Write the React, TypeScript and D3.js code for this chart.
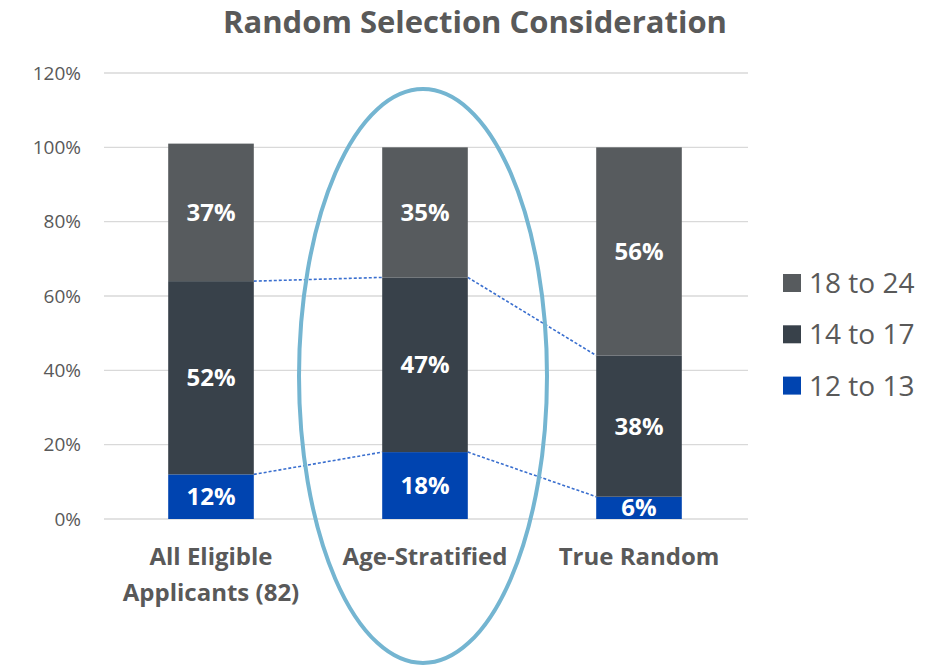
import * as d3 from "d3";

const categories = ["All Eligible|Applicants (82)", "Age-Stratified", "True Random"];
const seriesNames = ["12 to 13", "14 to 17", "18 to 24"];
const age12to13 = [12, 18, 6];
const age14to17 = [52, 47, 38];
const age18to24 = [37, 35, 56];
const yTicks = [0, 20, 40, 60, 80, 100, 120];
const colors = ["#0044b0", "#38414a", "#575b5e"];

const FONT = "'Open Sans', sans-serif";

export default function App() {
  const width = 943;
  const height = 666;
  const margin = { top: 73, right: 197, bottom: 147, left: 104 };

  const x = d3.scaleBand()
    .domain(categories)
    .range([margin.left, width - margin.right])
    .paddingInner(0.6)
    .paddingOuter(0.3);

  const y = d3.scaleLinear()
    .domain([0, 120])
    .range([height - margin.bottom, margin.top]);

  const rows = categories.map((c, i) => ({
    cat: c,
    s0: age12to13[i],
    s1: age14to17[i],
    s2: age18to24[i],
  }));
  const stacked = d3.stack<any>().keys(["s0", "s1", "s2"])(rows);

  // series lines between adjacent bars (Excel style)
  const seriesLines: { x1: number; y1: number; x2: number; y2: number }[] = [];
  for (let s = 0; s < 2; s++) {
    for (let i = 0; i < categories.length - 1; i++) {
      seriesLines.push({
        x1: x(categories[i])! + x.bandwidth(),
        y1: y(stacked[s][i][1]),
        x2: x(categories[i + 1])!,
        y2: y(stacked[s][i + 1][1]),
      });
    }
  }

  const midX = x(categories[1])! + x.bandwidth() / 2;

  return (
    <svg width={width} height={height} style={{ position: "absolute", left: 0, top: 0, background: "#fff" }}>
      <defs>
        <clipPath id="plot">
          <rect x={margin.left} y={margin.top} width={width - margin.left - margin.right} height={y(0) - margin.top} />
        </clipPath>
      </defs>
      <text x={475} y={33} textAnchor="middle" fontFamily={FONT} fontWeight="bold" fontSize={31} fill="#595959">
        Random Selection Consideration
      </text>

      {yTicks.map(t => (
        <g key={t}>
          <line x1={margin.left} x2={width - margin.right + 2} y1={y(t)} y2={y(t)} stroke="#d9d9d9" strokeWidth={1.3} />
          <text x={81} y={y(t)} dy="0.35em" textAnchor="end" fontFamily={FONT} fontSize={19} fill="#595959">
            {t}%
          </text>
        </g>
      ))}

      {seriesLines.map((l, i) => (
        <line key={i} x1={l.x1} y1={l.y1} x2={l.x2} y2={l.y2} stroke="#3a6fcf" strokeWidth={1.6} strokeDasharray="3 2" />
      ))}

      {stacked.map((layer, s) => (
        <g key={s}>
          {layer.map((d, i) => (
            <rect key={i} x={x(categories[i])} y={y(d[1])} width={x.bandwidth()} height={y(d[0]) - y(d[1])} fill={colors[s]} />
          ))}
        </g>
      ))}

      <g clipPath="url(#plot)">
        {stacked.map((layer, s) => (
          <g key={s}>
            {layer.map((d, i) => (
              <text
                key={i}
                x={x(categories[i])! + x.bandwidth() / 2}
                y={y((d[0] + d[1]) / 2)}
                dy="0.36em"
                textAnchor="middle"
                fontFamily={FONT}
                fontWeight="bold"
                fontSize={24}
                fill="#ffffff"
              >
                {d[1] - d[0]}%
              </text>
            ))}
          </g>
        ))}
      </g>

      {categories.map(c => (
        <text key={c} textAnchor="middle" fontFamily={FONT} fontWeight="bold" fontSize={24} fill="#595959">
          {c.split("|").map((line, j) => (
            <tspan key={j} x={x(c)! + x.bandwidth() / 2} y={565 + j * 36}>
              {line}
            </tspan>
          ))}
        </text>
      ))}

      <ellipse cx={midX - 2} cy={376} rx={124} ry={287} fill="none" stroke="#74b5d1" strokeWidth={4} />

      {[2, 1, 0].map((s, k) => (
        <g key={s} transform={`translate(783,${274 + k * 51.3})`}>
          <rect width={18} height={18} fill={colors[s]} />
          <text x={26} y={9} dy="0.36em" fontFamily={FONT} fontSize={28} fill="#595959">
            {seriesNames[s]}
          </text>
        </g>
      ))}
    </svg>
  );
}
